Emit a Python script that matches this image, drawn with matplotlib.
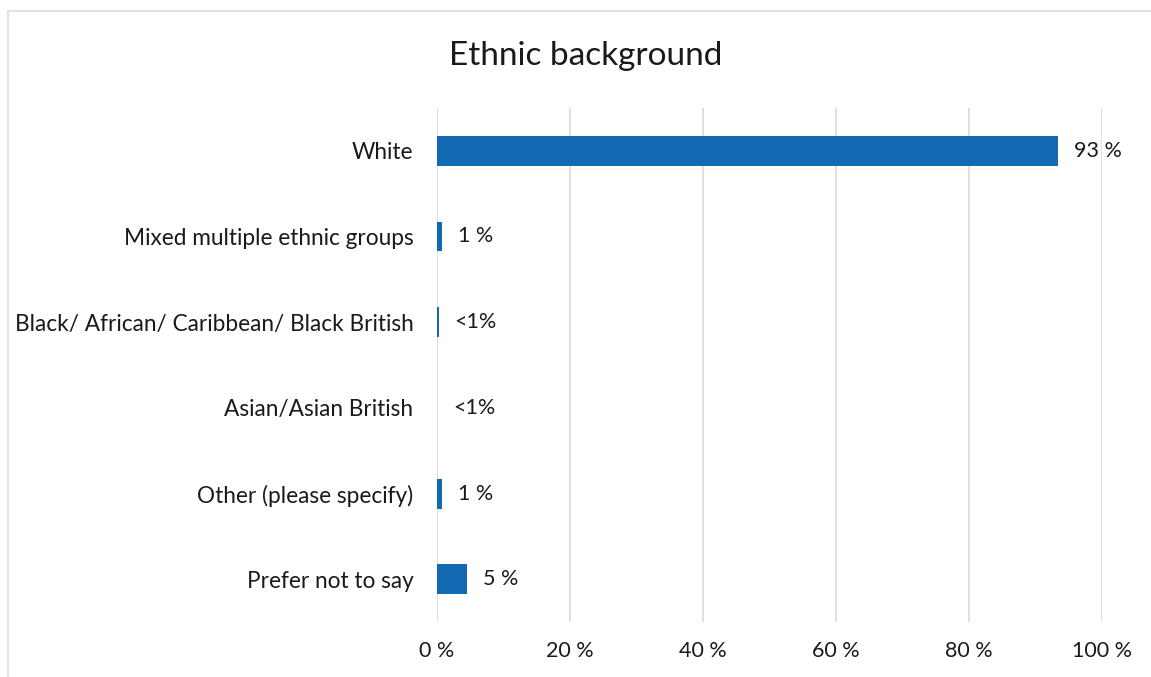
import matplotlib
matplotlib.use("Agg")
import matplotlib.pyplot as plt
from matplotlib.patches import Rectangle

categories = [
    "White",
    "Mixed multiple ethnic groups",
    "Black/ African/ Caribbean/ Black British",
    "Asian/Asian British",
    "Other (please specify)",
    "Prefer not to say",
]
values = [93.4, 0.8, 0.25, 0.0, 0.8, 4.5]
value_labels = ["93 %", "1 %", "<1%", "<1%", "1 %", "5 %"]
ticks = [0, 20, 40, 60, 80, 100]
tick_labels = ["0 %", "20 %", "40 %", "60 %", "80 %", "100 %"]

plt.rcParams["font.family"] = ["Lato", "DejaVu Sans"]
text_color = "#1a1a1a"

fig = plt.figure(figsize=(11.51, 6.77), dpi=100)
ax = fig.add_axes([0.3797, 0.0812, 0.5777, 0.7593])

pos = list(range(len(categories)))
ax.barh(pos, values, height=0.35, color="#1369b2", zorder=3)
for p, v, lab in zip(pos, values, value_labels):
    ax.annotate(lab, (v, p), xytext=(11.5, 0), textcoords="offset points",
                va="center", ha="left", fontsize=15.5, color=text_color)

ax.set_ylim(len(categories) - 0.5, -0.5)
ax.set_xlim(0, 100)
ax.set_yticks(pos)
ax.set_yticklabels(categories, fontsize=16.3, color=text_color)
ax.set_xticks(ticks)
ax.set_xticklabels(tick_labels, fontsize=15.5, color=text_color)
ax.tick_params(axis="y", length=0, pad=17)
ax.tick_params(axis="x", length=0, pad=14)
ax.grid(axis="x", color="#d9d9d9", linewidth=1.2, zorder=0)
for s in ax.spines.values():
    s.set_visible(False)

fig.text(586 / 1151, 1 - 56 / 677, "Ethnic background", ha="center", va="center",
         fontsize=24, color=text_color)

# outer chart border
fig.patches.append(Rectangle((8 / 1151, -0.01), 1.2, 1 - 11 / 677 + 0.01,
                             transform=fig.transFigure, fill=False,
                             edgecolor="#e3e3e3", linewidth=1.5))

fig.savefig("out.png", dpi=100)
